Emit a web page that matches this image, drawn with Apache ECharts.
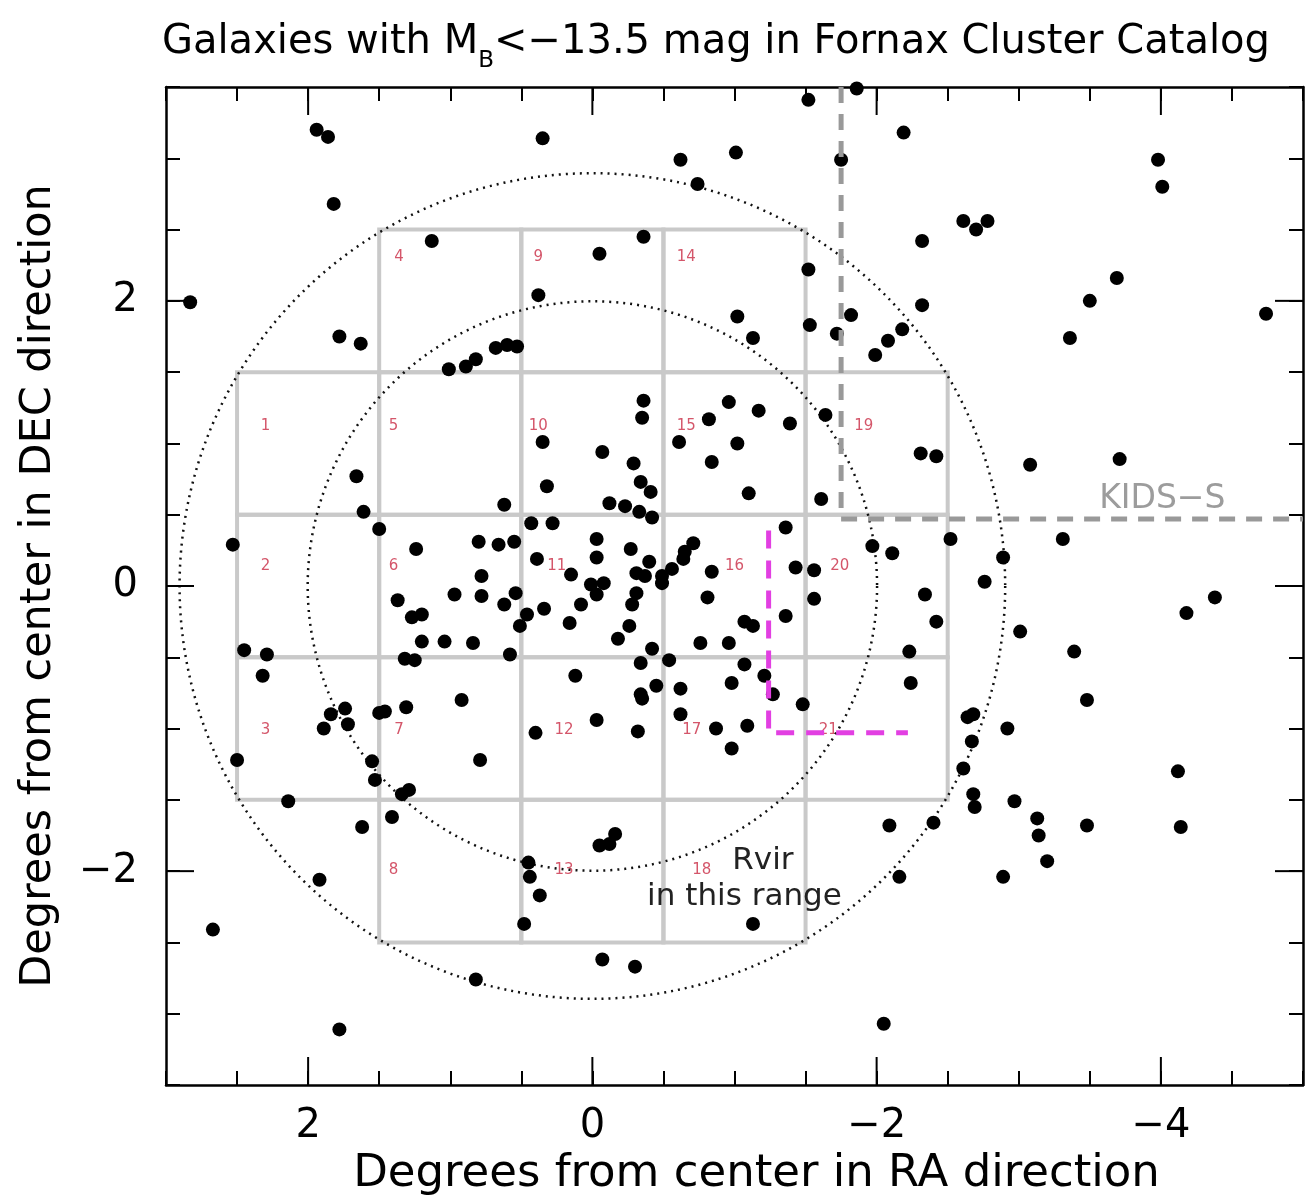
<!DOCTYPE html>
<html>
<head>
<meta charset="utf-8">
<title>Fornax Cluster galaxies</title>
<script src="https://cdn.jsdelivr.net/npm/echarts@6/dist/echarts.min.js"></script>
<style>
  html, body { margin: 0; padding: 0; background: #fff; }
  #chart { width: 1306px; height: 1203px; }
</style>
</head>
<body>
<div id="chart"></div>
<script>
// Offsets (degrees) of catalogue galaxies from the cluster centre
const galaxyRA = [
  1.94, 1.86, 0.35, 1.82, 1.13, 2.83, 0.38, 1.78, 1.63, 1.01, 0.89, 0.82, 0.68, 0.60, 0.53,
  -1.52, -1.86, -2.19, -0.62, -1.01, -1.75, -0.74, -0.36, -0.05, -2.32, -1.52, -1.02, -1.13, -1.53,
  -1.82, -1.72, -1.99, -2.08, -2.18, -2.32, -0.36, -0.35, -0.96, -1.17, -0.82, -1.39, -1.64,
  -3.98, -4.01, -2.61, -2.70, -2.78, -3.69, -3.50, -3.36, -4.74,
  0.35, 1.66, 0.32, 0.62, 1.61, 1.50, 0.43, 0.28, 2.53, 1.24, 0.80, 0.66, 0.55, 0.39, 0.78, 0.97,
  0.78, 0.54, 0.62, 0.34, 1.37, 1.27, 1.20, 0.46, 0.51, 1.20, 1.04, 0.84, 2.45, 2.29, 2.32, 1.32,
  1.25, 0.58, 1.84, 1.74, 1.72, 1.89, 1.50, 1.46, 1.31, 0.92, 0.40,
  2.50, 1.55, 1.53, 0.79, 2.14, 1.34, 1.29, 1.41, 1.62, 1.92, 2.67, 0.82, 0.45, 0.44, 0.37, 0.48, 1.78,
  -0.98, -0.05, -0.12, -0.16, -2.09, -2.16, -1.13, -0.07, -0.30, -2.05,
  -2.61, -2.68, -2.69, -2.97, -2.40, -3.13, -3.14, -3.48, -3.20, -2.89, -4.12, -4.14,
  -0.07, -0.29, -0.61, -1.02, -0.84, -0.34, -0.41, -1.10, -1.61, -0.12, -0.23, -0.33, -0.42, -1.36,
  -0.03, -0.27, -0.03, -0.40, -0.31, -0.37, -0.71, -0.65, -0.64, -0.56, -0.49, -0.49, 0.15, -0.84,
  0.01, -0.08, -0.03, -0.31, -0.28, 0.08, 0.16, -0.81, -1.43, -1.56, -1.56, -1.36, -1.07, -1.13,
  -0.26, -0.18, -0.76, -0.96, -0.42, -0.34, -0.54, 0.12, -1.07, -1.21, -0.98, -1.27, -1.48, -0.45,
  -0.62, -0.34, -0.35, -0.62, -0.03, -0.32, -0.87, -1.09,
  -2.31, -2.42, -1.97, -2.11, -2.34, -2.23, -2.24, -2.42,
  -3.08, -3.71, -2.52, -3.31, -2.89, -2.76, -3.01, -4.38, -4.18, -3.39, -3.48, -2.64, -2.68, -2.92, -2.67
];
const galaxyDec = [
  3.20, 3.15, 3.14, 2.68, 2.42, 1.99, 2.04, 1.75, 1.70, 1.52, 1.54, 1.59, 1.67, 1.69, 1.68,
  3.41, 3.49, 3.18, 2.99, 3.04, 2.99, 2.82, 2.45, 2.33, 2.42, 2.22, 1.89, 1.74, 1.83,
  1.90, 1.77, 1.62, 1.72, 1.80, 1.97, 1.30, 1.18, 1.29, 1.23, 1.17, 1.14, 1.20,
  2.99, 2.80, 2.56, 2.50, 2.56, 2.16, 2.00, 1.74, 1.91,
  1.01, 0.77, 0.70, 0.57, 0.52, 0.40, 0.44, 0.44, 0.29, 0.26, 0.31, 0.29, 0.31, 0.19, 0.07, -0.06,
  -0.07, -0.05, -0.13, -0.16, -0.10, -0.22, -0.20, -0.20, -0.28, -0.39, -0.39, -0.40, -0.45, -0.48, -0.63, -0.51,
  -0.52, -0.48, -0.90, -0.86, -0.97, -1.00, -0.89, -0.88, -0.85, -0.80, -1.03,
  -1.22, -1.23, -1.36, -1.22, -1.51, -1.46, -1.43, -1.62, -1.69, -2.06, -2.41, -2.76, -1.94, -2.04, -2.17, -2.37, -3.11,
  -1.14, -1.82, -1.81, -1.74, -1.68, -2.04, -2.37, -2.62, -2.67, -3.07,
  -1.28, -1.46, -1.55, -1.51, -1.66, -1.63, -1.75, -1.68, -1.93, -2.04, -1.30, -1.69,
  0.94, 0.86, 1.01, 1.00, 0.87, 0.73, 0.66, 0.65, 0.61, 0.58, 0.56, 0.52, 0.48, 0.41,
  0.33, 0.26, 0.20, 0.17, 0.09, 0.07, 0.30, 0.24, 0.19, 0.12, 0.07, 0.02, 0.08, 0.10,
  0.01, 0.02, -0.06, -0.05, -0.13, -0.13, -0.26, -0.08, 0.13, 0.11, -0.09, -0.21, -0.25, -0.28,
  -0.28, -0.37, -0.40, -0.40, -0.44, -0.54, -0.52, -0.63, -0.55, -0.63, -0.68, -0.76, -0.83, -0.70,
  -0.72, -0.76, -0.79, -0.90, -0.94, -1.02, -1.00, -0.98,
  0.93, 0.91, 0.28, 0.23, -0.06, -0.46, -0.68, -0.25,
  0.85, 0.89, 0.33, 0.33, 0.20, 0.03, -0.32, -0.08, -0.19, -0.46, -0.80, -0.92, -0.90, -1.00, -1.09
];

// Survey cells: 1-degree squares, numbered column by column (RA decreasing)
const cellColumnLeft = [2.5, 1.5, 0.5, -0.5, -1.5];
const cellColumnTops = [
  [1.5, 0.5, -0.5],
  [2.5, 1.5, 0.5, -0.5, -1.5],
  [2.5, 1.5, 0.5, -0.5, -1.5],
  [2.5, 1.5, 0.5, -0.5, -1.5],
  [1.5, 0.5, -0.5]
];
// Where each cell number is written (RA, Dec)
const cellLabelAt = [
  [2.30, 1.12], [2.30, 0.14], [2.30, -1.01],
  [1.36, 2.31], [1.40, 1.12], [1.40, 0.14], [1.36, -1.01], [1.40, -1.99],
  [0.38, 2.31], [0.38, 1.12], [0.25, 0.14], [0.20, -1.01], [0.20, -1.99],
  [-0.66, 2.31], [-0.66, 1.12], [-1.00, 0.14], [-0.70, -1.01], [-0.77, -1.99],
  [-1.91, 1.12], [-1.74, 0.14], [-1.66, -1.01]
];

// Radii (degrees) of the two dotted reference circles
const circleRadii = [2.0, 2.9];
// KiDS-South footprint edge and virial-radius marker
const kidsEdge = [[-1.75, 3.5], [-1.75, 0.47], [-5, 0.47]];
const rvirMarker = [[-1.24, 0.39], [-1.24, -1.03], [-2.22, -1.03]];

// Axis ranges and labelled ticks
const raRange = [-5, 3];
const decRange = [-3.5, 3.5];
const raMajorTicks = [-4, -2, 0, 2];
const decMajorTicks = [-2, 0, 2];

const FONT = 'DejaVu Sans';

const cells = [];
cellColumnLeft.forEach((left, ci) => {
  cellColumnTops[ci].forEach(top => {
    cells.push({ left, top, id: cells.length + 1 });
  });
});

const galaxies = galaxyRA.map((ra, i) => [ra, galaxyDec[i]]);

const fmtTick = v => String(v).replace('-', '\u2212');
const isMajor = (v, list) => list.some(m => Math.abs(m - v) < 1e-6);

const axisCommonX = {
  type: 'value', min: raRange[0], max: raRange[1], inverse: true, interval: 0.5,
  axisLine: { show: true, onZero: false, lineStyle: { color: '#000', width: 2.5 } },
  axisTick: { show: true, inside: true, length: 14, lineStyle: { color: '#000', width: 2 } },
  splitLine: { show: false }
};
const axisCommonY = {
  type: 'value', min: decRange[0], max: decRange[1], interval: 0.5,
  axisLine: { show: true, onZero: false, lineStyle: { color: '#000', width: 2.5 } },
  axisTick: { show: true, inside: true, length: 14, lineStyle: { color: '#000', width: 2 } },
  splitLine: { show: false }
};

const chart = echarts.init(document.getElementById('chart'));

chart.setOption({
  animation: false,
  backgroundColor: '#fff',
  title: {
    text: 'Galaxies with M{sub|B}<\u221213.5 mag in Fornax Cluster Catalog',
    left: 157,
    top: 8,
    textStyle: {
      fontFamily: FONT, fontSize: 40, fontWeight: 'normal', color: '#000', lineHeight: 60,
      rich: {
        sub: { fontFamily: FONT, fontSize: 23, lineHeight: 32, verticalAlign: 'bottom', color: '#000' }
      }
    }
  },
  grid: { left: 166, top: 87, width: 1137, height: 998, containLabel: false },
  xAxis: [
    Object.assign({}, axisCommonX, {
      position: 'bottom',
      name: 'Degrees from center in RA direction',
      nameLocation: 'middle',
      nameGap: 64,
      nameTextStyle: { fontFamily: FONT, fontSize: 45, color: '#000', padding: [0, 0, 0, 44] },
      axisLabel: {
        show: true, margin: 22, fontFamily: FONT, fontSize: 40, color: '#000',
        formatter: v => isMajor(v, raMajorTicks) ? fmtTick(v) : ''
      }
    }),
    Object.assign({}, axisCommonX, { position: 'top', axisLabel: { show: false } })
  ],
  yAxis: [
    Object.assign({}, axisCommonY, {
      position: 'left',
      name: 'Degrees from center in DEC direction',
      nameLocation: 'middle',
      nameGap: 106,
      nameTextStyle: { fontFamily: FONT, fontSize: 43, color: '#000' },
      axisLabel: {
        show: true, margin: 28, fontFamily: FONT, fontSize: 40, color: '#000',
        formatter: v => isMajor(v, decMajorTicks) ? fmtTick(v) : ''
      }
    }),
    Object.assign({}, axisCommonY, { position: 'right', axisLabel: { show: false } })
  ],
  series: [
    {
      // survey cell outlines
      type: 'custom', name: 'cells', z: 1, silent: true,
      data: cells.map(c => [c.left, c.top]),
      renderItem: (params, api) => {
        const p1 = api.coord([api.value(0), api.value(1)]);
        const p2 = api.coord([api.value(0) - 1, api.value(1) - 1]);
        return {
          type: 'rect',
          shape: { x: Math.min(p1[0], p2[0]), y: Math.min(p1[1], p2[1]),
                   width: Math.abs(p2[0] - p1[0]), height: Math.abs(p2[1] - p1[1]) },
          style: { fill: null, stroke: '#c9c9c9', lineWidth: 4 }
        };
      }
    },
    {
      // cell numbers
      type: 'custom', name: 'cellNumbers', z: 2, silent: true,
      data: cellLabelAt.map((p, i) => [p[0], p[1], i + 1]),
      renderItem: (params, api) => {
        const p = api.coord([api.value(0), api.value(1)]);
        return {
          type: 'text', x: p[0], y: p[1],
          style: { text: String(api.value(2)), fill: '#d4566a', fontFamily: FONT, fontSize: 15,
                   align: 'center', verticalAlign: 'middle' }
        };
      }
    },
    {
      // dotted circles around the cluster centre
      type: 'custom', name: 'circles', z: 2, silent: true,
      data: circleRadii.map(r => [0, 0, r]),
      renderItem: (params, api) => {
        const c = api.coord([api.value(0), api.value(1)]);
        const s = api.size([api.value(2), api.value(2)]);
        return {
          type: 'circle',
          shape: { cx: c[0], cy: c[1], r: (s[0] + s[1]) / 2 },
          style: { fill: null, stroke: '#111', lineWidth: 2.5, lineDash: [2, 5] }
        };
      }
    },
    {
      type: 'scatter', name: 'galaxies', z: 3,
      data: galaxies,
      symbol: 'circle', symbolSize: 14,
      itemStyle: { color: '#000', opacity: 1 }
    },
    {
      type: 'line', name: 'KIDS-S', z: 5, silent: true,
      data: kidsEdge, showSymbol: false, symbol: 'none',
      lineStyle: { color: '#999', width: 5, type: [16, 11] }
    },
    {
      type: 'line', name: 'Rvir', z: 5, silent: true,
      data: rvirMarker, showSymbol: false, symbol: 'none',
      lineStyle: { color: '#e23fe2', width: 5, type: [18, 12] }
    },
    {
      // annotation texts
      type: 'custom', name: 'notes', z: 6, silent: true,
      data: [[-1.20, -1.93, 0], [-1.07, -2.18, 1], [-4.01, 0.61, 2]],
      renderItem: (params, api) => {
        const p = api.coord([api.value(0), api.value(1)]);
        const k = api.value(2);
        const styles = [
          { text: 'Rvir', fill: '#222', fontSize: 31 },
          { text: 'in this range', fill: '#222', fontSize: 31 },
          { text: 'KIDS\u2212S', fill: '#9c9c9c', fontSize: 33 }
        ];
        const st = styles[k];
        return {
          type: 'text', x: p[0], y: p[1],
          style: { text: st.text, fill: st.fill, fontFamily: FONT, fontSize: st.fontSize,
                   align: 'center', verticalAlign: 'middle' }
        };
      }
    },
    {
      // long ticks at the labelled RA values (bottom and top)
      type: 'custom', name: 'raMajor', z: 7, silent: true,
      data: raMajorTicks.map(v => [v, 0]),
      renderItem: (params, api) => {
        const b = api.coord([api.value(0), decRange[0]]);
        const t = api.coord([api.value(0), decRange[1]]);
        const st = { stroke: '#000', lineWidth: 2 };
        return { type: 'group', children: [
          { type: 'line', shape: { x1: b[0], y1: b[1], x2: b[0], y2: b[1] - 28 }, style: st },
          { type: 'line', shape: { x1: t[0], y1: t[1], x2: t[0], y2: t[1] + 28 }, style: st }
        ] };
      }
    },
    {
      // long ticks at the labelled Dec values (left and right)
      type: 'custom', name: 'decMajor', z: 7, silent: true,
      data: decMajorTicks.map(v => [0, v]),
      renderItem: (params, api) => {
        const l = api.coord([raRange[1], api.value(1)]);
        const r = api.coord([raRange[0], api.value(1)]);
        const st = { stroke: '#000', lineWidth: 2 };
        return { type: 'group', children: [
          { type: 'line', shape: { x1: l[0], y1: l[1], x2: l[0] + 28, y2: l[1] }, style: st },
          { type: 'line', shape: { x1: r[0], y1: r[1], x2: r[0] - 28, y2: r[1] }, style: st }
        ] };
      }
    }
  ]
});
</script>
</body>
</html>
